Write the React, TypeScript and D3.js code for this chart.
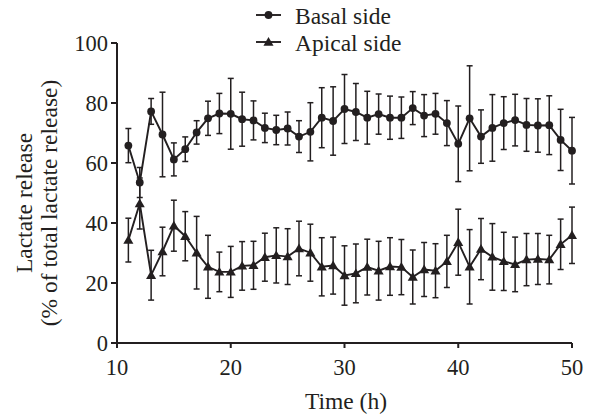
import React from "react";
import * as d3 from "d3";

// hours sampled
const hours = [11,12,13,14,15,16,17,18,19,20,21,22,23,24,25,26,27,28,29,30,31,32,33,34,35,36,37,38,39,40,41,42,43,44,45,46,47,48,49,50];

// basal side: mean and error
const basalMean = [65.8,53.5,77.2,69.5,61.2,64.6,70.2,74.9,76.5,76.4,74.6,74.2,71.7,71.0,71.5,68.8,70.4,75.1,74.0,78.0,77.0,75.1,76.3,75.1,75.1,78.3,75.8,76.4,73.3,66.4,74.9,68.8,71.7,73.3,74.3,72.7,72.5,72.6,67.7,64.1];
const basalErr = [5.7,5.0,4.3,14.1,5.5,4.1,3.9,5.7,6.7,11.8,9.0,6.5,4.9,4.9,5.5,5.3,9.7,10.0,11.4,11.5,9.5,8.8,6.7,7.2,6.9,5.5,7.0,6.8,7.5,12.6,17.5,8.9,11.1,8.8,8.6,8.8,8.9,9.8,10.2,11.1];

// apical side: mean and error
const apicalMean = [34.3,46.5,22.6,30.5,39.1,35.6,30.1,25.4,23.7,23.7,25.7,25.9,28.6,29.2,28.8,31.5,30.1,25.4,25.8,22.5,23.2,25.3,24.1,25.5,25.3,22.0,24.5,24.1,27.2,33.6,25.4,31.3,28.7,27.2,26.2,27.8,28.0,27.8,32.9,35.9];
const apicalErr = [7.3,8.5,8.3,8.1,8.5,8.2,12.1,10.5,6.6,8.5,8.1,8.0,8.0,9.2,9.3,9.1,9.5,9.7,9.5,9.9,9.8,9.3,9.8,9.6,9.2,9.0,9.0,9.0,8.7,11.0,12.4,10.2,11.1,9.7,9.1,8.7,8.5,8.1,8.4,9.4];

const xTicks = [10, 20, 30, 40, 50];
const yTicks = [0, 20, 40, 60, 80, 100];
const seriesNames = ["Basal side", "Apical side"];

const ink = "#231f20";
const font = "'Liberation Serif', 'Times New Roman', serif";

export default function App() {
  const width = 594;
  const height = 416;
  const x = d3.scaleLinear().domain([10, 50]).range([117, 572]);
  const y = d3.scaleLinear().domain([0, 100]).range([343, 43]);

  const line = d3.line<number>().x((d, i) => x(hours[i])).y(d => y(d));
  const tri = d3.symbol().type(d3.symbolTriangle).size(44)();
  const cap = 3;

  const series = [
    { name: seriesNames[0], mean: basalMean, err: basalErr, shape: "circle" },
    { name: seriesNames[1], mean: apicalMean, err: apicalErr, shape: "triangle" },
  ];

  const marker = (shape: string, cx: number, cy: number, key?: any) =>
    shape === "circle"
      ? <circle key={key} cx={cx} cy={cy} r={3.9} fill={ink} />
      : <path key={key} d={tri as string} transform={`translate(${cx},${cy + 0.8})`} fill={ink} />;

  return (
    <svg width={width} height={height} style={{ position: "absolute", left: 0, top: 0 }} fontFamily={font}>
      <rect width={width} height={height} fill="#fff" />

      {/* series */}
      {series.map(s => (
        <g key={s.name}>
          {s.mean.map((m, i) => {
            const cx = x(hours[i]);
            const y1 = y(m + s.err[i]);
            const y2 = y(m - s.err[i]);
            return (
              <g key={i} stroke={ink} strokeWidth={1.5}>
                <line x1={cx} x2={cx} y1={y1} y2={y2} />
                <line x1={cx - cap} x2={cx + cap} y1={y1} y2={y1} />
                <line x1={cx - cap} x2={cx + cap} y1={y2} y2={y2} />
              </g>
            );
          })}
          <path d={line(s.mean) as string} fill="none" stroke={ink} strokeWidth={1.9} />
          {s.mean.map((m, i) => marker(s.shape, x(hours[i]), y(m), i))}
        </g>
      ))}

      {/* y axis */}
      <line x1={x(10)} x2={x(10)} y1={y(100)} y2={y(0) + 1} stroke={ink} strokeWidth={2} />
      {yTicks.map(t => (
        <g key={t}>
          <line x1={x(10) - 6} x2={x(10)} y1={y(t)} y2={y(t)} stroke={ink} strokeWidth={2} />
          <text x={x(10) - 9} y={y(t)} dy="0.35em" textAnchor="end" fontSize={22.5} fill={ink}>{t}</text>
        </g>
      ))}

      {/* x axis */}
      <line x1={x(10) - 1} x2={x(50)} y1={y(0)} y2={y(0)} stroke={ink} strokeWidth={2} />
      {xTicks.map(t => (
        <g key={t}>
          <line x1={x(t)} x2={x(t)} y1={y(0)} y2={y(0) + 5} stroke={ink} strokeWidth={2} />
          <text x={x(t)} y={y(0) + 32} textAnchor="middle" fontSize={22.5} fill={ink}>{t}</text>
        </g>
      ))}

      <text x={346} y={409} textAnchor="middle" fontSize={23.5} fill={ink}>Time (h)</text>
      <text transform="translate(32,203) rotate(-90)" textAnchor="middle" fontSize={23.5} fill={ink}>Lactate release</text>
      <text transform="translate(57,203) rotate(-90)" textAnchor="middle" fontSize={23.5} fill={ink}>(% of total lactate release)</text>

      {/* legend */}
      {series.map((s, i) => {
        const ly = 15 + i * 27;
        return (
          <g key={s.name}>
            <line x1={256} x2={281} y1={ly} y2={ly} stroke={ink} strokeWidth={1.9} />
            {marker(s.shape, 268.5, ly)}
            <text x={295} y={ly + 9} fontSize={23.5} fill={ink}>{s.name}</text>
          </g>
        );
      })}
    </svg>
  );
}
